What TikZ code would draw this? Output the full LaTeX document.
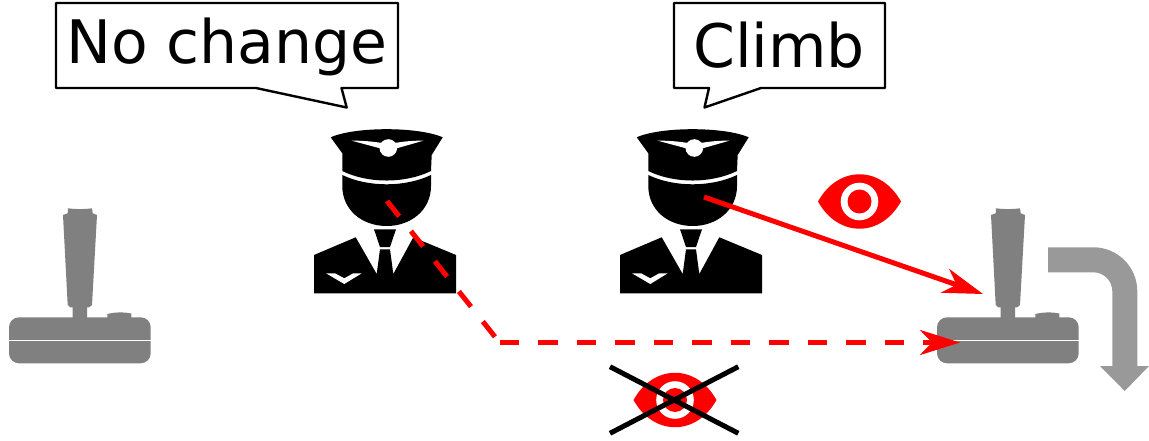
\documentclass[tikz,border=0pt]{standalone}
\usepackage{fontspec}
\setmainfont{DejaVu Sans}
\usetikzlibrary{arrows.meta}

\definecolor{stickgray}{gray}{0.5}
\definecolor{turngray}{gray}{0.6}
\definecolor{eyered}{rgb}{1,0,0}

\tikzset{
    bubble/.style={draw=black, line width=2.4pt, line join=round, fill=white},
    bubbletext/.style={anchor=base, inner sep=0pt, font=\fontsize{60}{60}\selectfont},
    sightline/.style={draw=eyered, line width=5pt},
    sighttip/.style={-{Stealth[length=40pt, width=25pt, inset=12pt]}},
    missdash/.style={dash pattern=on 19.5pt off 19pt},
}

% Pilot, origin at the top left of its box
\newcommand{\drawpilot}[1]{
    \begin{scope}[shift={(#1)}]
        % Cap
        \fill[black] (30.7,17.3) .. controls (55,6.5) and (118,6.5) .. (142.7,17.3) -- (131.7,35) -- (131,51)
            .. controls (105,63.7) and (68,63.7) .. (42.3,51) -- (42.3,33.3) -- cycle;
        % Cap badge
        \fill[white] (51.7,20.7) .. controls (62,20.5) and (72,21.5) .. (80,22.7) -- (96.7,22.7)
            .. controls (104,21.5) and (113,20.5) .. (123.3,20.7) -- (96.7,28.3) -- (80,28.3) -- cycle;
        \fill[white] (88.3,28) circle (8.8);
        % Face
        \fill[black] (42.3,55) .. controls (68,67.4) and (105,67.4) .. (131,55) -- (131,66)
            .. controls (131,90) and (111,106) .. (86.7,106) .. controls (62,106) and (42.3,90) .. (42.3,66) -- cycle;
        % Jacket
        \fill[black] (14,135) -- (55.7,117.3) -- (76.7,154) -- (80,129.3) -- (90,129.3) -- (93.3,154) -- (113.3,117.3)
            -- (156,135) -- (156,173.3) -- (14,173.3) -- cycle;
        % Tie knot
        \fill[black] (74,109.3) -- (96,109.3) -- (90,127) -- (80,127) -- cycle;
        % Wing on the jacket
        \fill[white] (26,153.3) -- (35,153.3) -- (44.3,158.3) -- (53.3,153.3) -- (61.7,153.3) -- (44.3,164) -- cycle;
    \end{scope}
}

% Joystick, origin at the top left of its box
\newcommand{\drawstick}[1]{
    \begin{scope}[shift={(#1)}]
        \fill[stickgray] (66,8.3) .. controls (72,9.3) and (84,9.3) .. (90,8.3) -- (90.7,13.3) -- (95,15) -- (90,105)
            -- (87.3,107.3) -- (85,107.3) -- (85,118) -- (70.7,118) -- (70.7,107.3) -- (68.3,107.3) -- (65.7,105)
            -- (61,15) -- (65.7,13.3) -- cycle;
        \fill[stickgray, rounded corners=10pt] (7,117.3) rectangle (148.7,163.3);
        \fill[stickgray] (105.3,118) -- (105.3,114) .. controls (113,112) and (122,112) .. (129.3,113.5) -- (129.3,118) -- cycle;
        \draw[white, line width=1.5pt] (7,140.3) -- (148.7,140.3);
    \end{scope}
}

% Eye, origin at its centre
\newcommand{\draweye}[1]{
    \begin{scope}[shift={(#1)}]
        \fill[eyered] (-41.5,0) .. controls (-32,-17) and (-17,-27.2) .. (0,-27.2) .. controls (17,-27.2) and (32,-17) .. (41.5,0)
            .. controls (32,17) and (17,27.2) .. (0,27.2) .. controls (-17,27.2) and (-32,17) .. (-41.5,0) -- cycle;
        \fill[white] (0,0) circle (18.8);
        \fill[eyered] (0,0) circle (12);
    \end{scope}
}

\begin{document}
\begin{tikzpicture}[x=1pt, y=-1pt]
    \useasboundingbox (0,0) rectangle (1149,441);

    % ==========================================
    % SPEECH BUBBLES
    % ==========================================
    \draw[bubble] (56,3) -- (398,3) -- (398,88) -- (341.5,88) -- (346.7,107.5) -- (256,88) -- (56,88) -- cycle;
    \node[bubbletext] (nochange) at (227,64) {No change};

    \draw[bubble] (674,3) -- (885,3) -- (885,88) -- (761,88) -- (704.5,107.5) -- (709,88) -- (674,88) -- cycle;
    \node[bubbletext] (climb) at (779,67.7) {Climb};

    % ==========================================
    % PILOTS AND JOYSTICKS
    % ==========================================
    \drawpilot{300,120}
    \drawpilot{606,120}

    \drawstick{2,200}
    \drawstick{930,200}

    % Turn arrow
    \fill[turngray] (1048,247.3) -- (1093.3,247.3) arc (-90:0:44) -- (1137.3,366) -- (1149,366) -- (1124.7,391)
        -- (1100,366) -- (1112.3,366) -- (1112.3,291.3) arc (0:-90:19) -- (1048,272.3) -- cycle;

    % ==========================================
    % LINES OF SIGHT
    % ==========================================
    \coordinate (SeenFrom) at (704,197);
    \coordinate (SeenTo) at (983,294);
    \coordinate (MissFrom) at (387,201);
    \coordinate (MissBend) at (499.5,342.5);
    \coordinate (MissTo) at (960,342.5);

    \draw[sightline, sighttip] (SeenFrom) -- (SeenTo);
    \draw[sightline, missdash] (MissFrom) -- (MissBend);
    \draw[sightline, sighttip, missdash] (MissBend) -- (MissTo);

    % Eyes
    \draweye{859.5,201.5}
    \draweye{675,400}

    % Cross over the second eye
    \draw[black, line width=5pt] (610,366.7) -- (738.3,433.3);
    \draw[black, line width=5pt] (610,433.3) -- (738.3,366.7);
\end{tikzpicture}
\end{document}
